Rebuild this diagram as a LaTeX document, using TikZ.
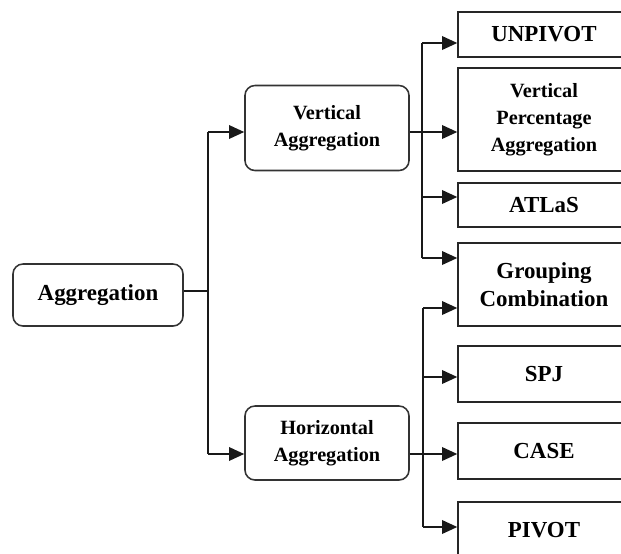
\documentclass[tikz,border=0pt]{standalone}
\usepackage{fontspec}
\setmainfont{Liberation Serif}
\usetikzlibrary{positioning,arrows.meta}

\begin{document}
\begin{tikzpicture}[
  x=0.025cm, y=-0.025cm,
  bigtext/.style={font=\fontsize{16.3}{20}\selectfont\bfseries},
  smalltext/.style={font=\fontsize{14.4}{19}\selectfont\bfseries},
  roundbox/.style={rectangle, draw=black!80, line width=1.1pt, rounded corners=0.25cm,
                   align=center, inner sep=0pt},
  leafbox/.style={rectangle, draw=black!85, line width=1pt, minimum width=4.3cm,
                  align=center, inner sep=0pt},
  link/.style={line width=1.1pt, draw=black!90},
  arrow/.style={link, -{Triangle[length=0.38cm, width=0.34cm]}}
]
  \useasboundingbox (0,0) rectangle (621,554);

  % root and the two branches
  \node[roundbox, bigtext, minimum width=4.25cm, minimum height=1.55cm] (agg) at (98,295) {Aggregation};
  \node[roundbox, smalltext, minimum width=4.1cm, minimum height=2.125cm] (vagg) at (327,128) {Vertical\\Aggregation};
  \node[roundbox, smalltext, minimum width=4.1cm, minimum height=1.85cm] (hagg) at (327,443) {Horizontal\\Aggregation};

  % leaves
  \node[leafbox, bigtext, minimum height=1.125cm] (unpivot) at (544,34.5) {UNPIVOT};
  \node[leafbox, smalltext, minimum height=2.575cm] (vpa) at (544,119.5) {Vertical\\Percentage\\Aggregation};
  \node[leafbox, bigtext, minimum height=1.1cm] (atlas) at (544,205) {ATLaS};
  \node[leafbox, bigtext, minimum height=2.075cm] (group) at (544,284.5) {Grouping\\Combination};
  \node[leafbox, bigtext, minimum height=1.4cm] (spj) at (544,374) {SPJ};
  \node[leafbox, bigtext, minimum height=1.4cm] (case) at (544,451) {CASE};
  \node[leafbox, bigtext, minimum height=1.4cm] (pivot) at (544,530) {PIVOT};

  % trunk points
  \coordinate (root) at (208,291);
  \coordinate (vrow) at (208,132);
  \coordinate (hrow) at (208,454);
  \coordinate (v1) at (422,43);
  \coordinate (v3) at (422,197);
  \coordinate (v4) at (422,258);
  \coordinate (h1) at (423,308);
  \coordinate (h2) at (423,377);
  \coordinate (h4) at (423,527);

  % root to branches
  \draw[link] (agg.east |- root) -- (root);
  \draw[link] (vrow) -- (hrow);
  \draw[arrow] (vrow) -- (vagg.west |- vrow);
  \draw[arrow] (hrow) -- (hagg.west |- hrow);

  % vertical branch
  \draw[link] (v1) -- (v4);
  \draw[arrow] (vagg.east |- vrow) -- (vpa.west |- vrow);
  \draw[arrow] (v1) -- (unpivot.west |- v1);
  \draw[arrow] (v3) -- (atlas.west |- v3);
  \draw[arrow] (v4) -- (group.west |- v4);

  % horizontal branch
  \draw[link] (h1) -- (h4);
  \draw[arrow] (hagg.east |- hrow) -- (case.west |- hrow);
  \draw[arrow] (h1) -- (group.west |- h1);
  \draw[arrow] (h2) -- (spj.west |- h2);
  \draw[arrow] (h4) -- (pivot.west |- h4);
\end{tikzpicture}
\end{document}
